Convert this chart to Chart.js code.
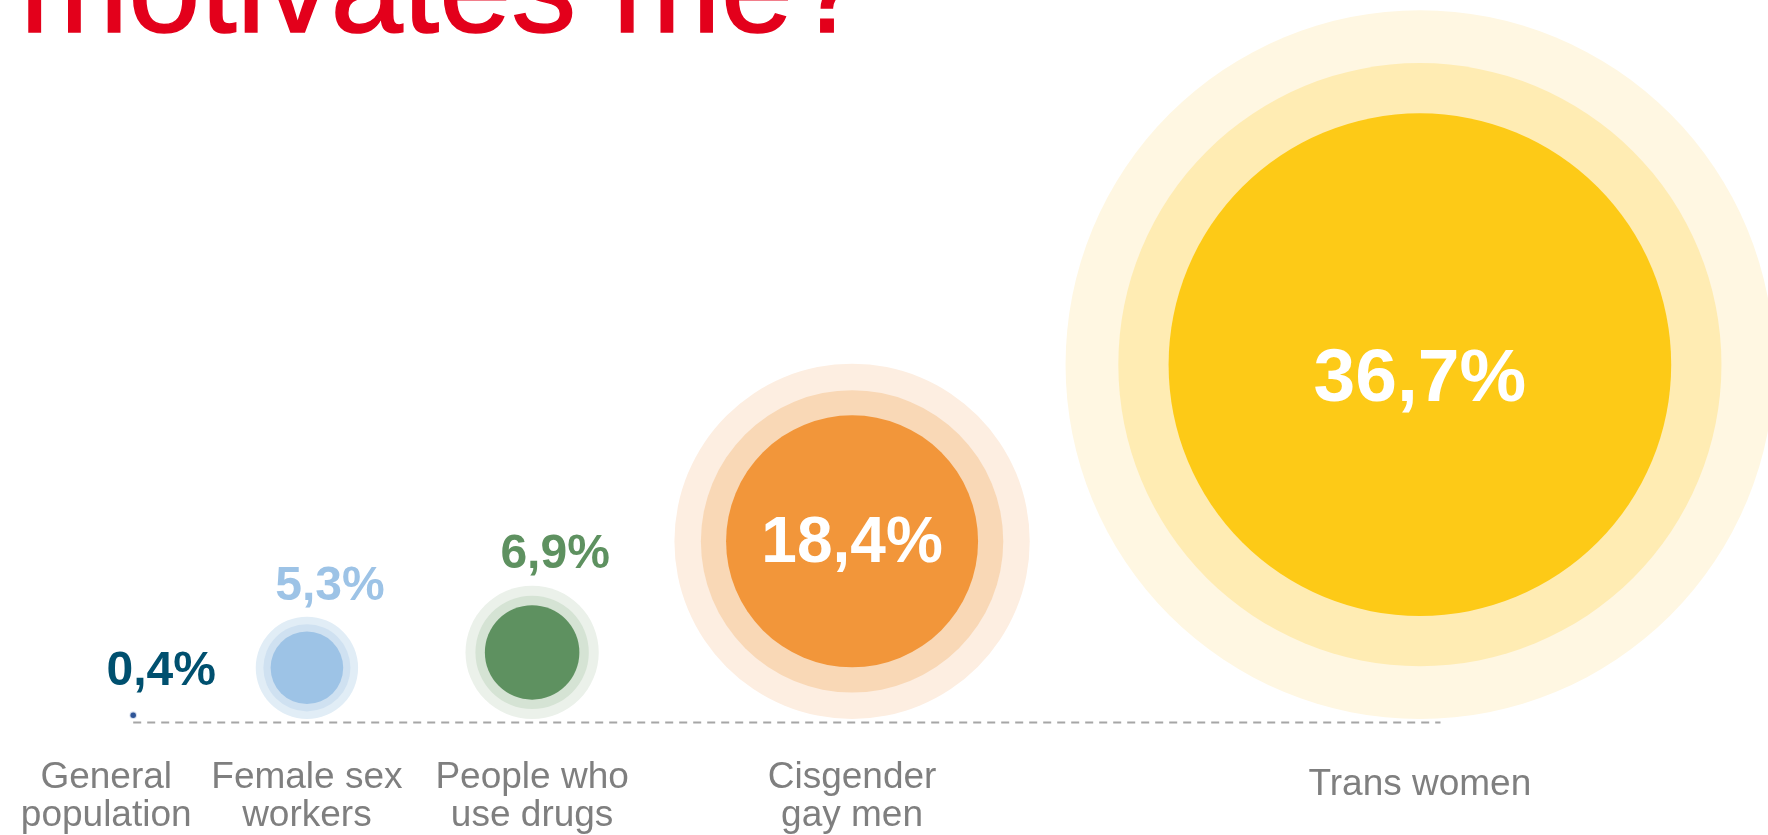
<!DOCTYPE html>
<html>
<head>
<meta charset="utf-8">
<title>What motivates me?</title>
<script src="https://cdn.jsdelivr.net/npm/chart.js@4.4.1/dist/chart.umd.min.js"></script>
<style>
    html, body { margin: 0; padding: 0; background: #fff; overflow: hidden; }
    #wrap { position: relative; width: 1768px; height: 835px; overflow: hidden; }
    #motivesChart { position: absolute; left: 0; top: 0; }
    #title {
        position: absolute; left: 20px; top: -78px; margin: 0;
        font-family: 'Liberation Sans', Arial, sans-serif; font-size: 130px; font-weight: normal;
        line-height: 130px; color: #E3001B; white-space: nowrap;
        -webkit-text-stroke: 1.5px #E3001B;
    }
</style>
</head>
<body>
<div id="wrap">
    <canvas id="motivesChart" width="1768" height="835"></canvas>
    <h1 id="title">motivates me?</h1>
</div>
<script>
// data
const groups = [['General', 'population'], ['Female sex', 'workers'], ['People who', 'use drugs'], ['Cisgender', 'gay men'], ['Trans women']];
const shares = [0.4, 5.3, 6.9, 18.4, 36.7];
const shareLabels = ['0,4%', '5,3%', '6,9%', '18,4%', '36,7%'];

// layout: where each group sits along the (hidden) x axis
const slotX = [19.4, 44.7, 77.5, 124.1, 206.8];

// styles
const innerColors = ['#2F5597', '#9DC3E6', '#5E9160', '#F2963A', '#FDCA17'];
const midColors = ['#C9D3E6', '#CFE1F1', '#D5E3D4', '#F9D8B6', '#FFECB3'];
const outerColors = ['#E4E9F3', '#E1EDF6', '#EBF1EA', '#FDEEE1', '#FFF7E2'];
const valueColors = ['#00506F', '#9DC3E6', '#5E9160', '#FFFFFF', '#FFFFFF'];
const valueSizes = [48, 48, 48, 64, 75];
const valueNudge = [[28, -4], [23, 6], [23, 5], [0, 3], [0, 16]];
const groupNudge = [-27, 0, 0, 0, 0];

const MID = 1.2;
const OUTER = 1.41;
const FONT = "'Liberation Sans', Arial, sans-serif";

// circles sit on the baseline: centre height = outer ring radius (in y units)
const circlePoints = shares.map((v, i) => ({ x: slotX[i], y: v * OUTER }));

function ringRadius(factor) {
    return ctx => {
        if (ctx.dataIndex === undefined) return 0;
        const y = ctx.chart.scales.y;
        const unit = y.getPixelForValue(0) - y.getPixelForValue(1);
        return isFinite(unit) ? shares[ctx.dataIndex] * unit * factor : 0;
    };
}

function ringDataset(colors, factor) {
    return {
        data: circlePoints,
        showLine: false,
        pointRadius: ringRadius(factor),
        pointHoverRadius: ringRadius(factor),
        pointBackgroundColor: colors,
        pointBorderWidth: 0,
        clip: false
    };
}

const circleLabels = {
    id: 'circleLabels',
    afterDatasetsDraw(chart, args, opts) {
        const ctx = chart.ctx;
        const inner = chart.getDatasetMeta(0).data;
        const outer = chart.getDatasetMeta(2).data;
        const base = chart.scales.y.getPixelForValue(0);
        ctx.save();
        ctx.textAlign = 'center';

        // values
        ctx.textBaseline = 'middle';
        inner.forEach((pt, i) => {
            ctx.font = 'bold ' + valueSizes[i] + 'px ' + FONT;
            ctx.fillStyle = valueColors[i];
            let y = pt.y;
            if (shares[i] < 10) {
                y = pt.y - outer[i].options.radius - opts.gap;
            }
            ctx.fillText(shareLabels[i], pt.x + valueNudge[i][0], y + valueNudge[i][1]);
        });

        // group names under the baseline
        ctx.textBaseline = 'alphabetic';
        ctx.font = '37px ' + FONT;
        ctx.fillStyle = '#7F7F7F';
        inner.forEach((pt, i) => {
            const lines = groups[i];
            const x = pt.x + groupNudge[i];
            if (lines.length === 1) {
                ctx.fillText(lines[0], x, base + 76);
            } else {
                lines.forEach((l, j) => ctx.fillText(l, x, base + 69 + j * 38));
            }
        });
        ctx.restore();
    }
};

const chartConfig = {
    type: 'scatter',
    data: {
        datasets: [
            ringDataset(innerColors, 1),
            ringDataset(midColors, MID),
            ringDataset(outerColors, OUTER),
            {
                type: 'line',
                data: [{ x: slotX[0], y: -0.5 }, { x: slotX[slotX.length - 1] + 3, y: -0.5 }],
                borderColor: '#A6A6A6',
                borderWidth: 2,
                borderDash: [8, 6],
                pointRadius: 0,
                fill: false,
                clip: false
            }
        ]
    },
    options: {
        responsive: false,
        animation: false,
        events: [],
        layout: { padding: { top: 0, left: 0, right: 0, bottom: 116 } },
        scales: {
            x: { type: 'linear', display: false, min: 0, max: 257.5 },
            y: { type: 'linear', display: false, min: 0, max: 105 }
        },
        plugins: {
            legend: { display: false },
            tooltip: { enabled: false },
            circleLabels: { gap: 36 }
        }
    },
    plugins: [circleLabels]
};

const motivesChart = new Chart(document.getElementById('motivesChart').getContext('2d'), chartConfig);
</script>
</body>
</html>
